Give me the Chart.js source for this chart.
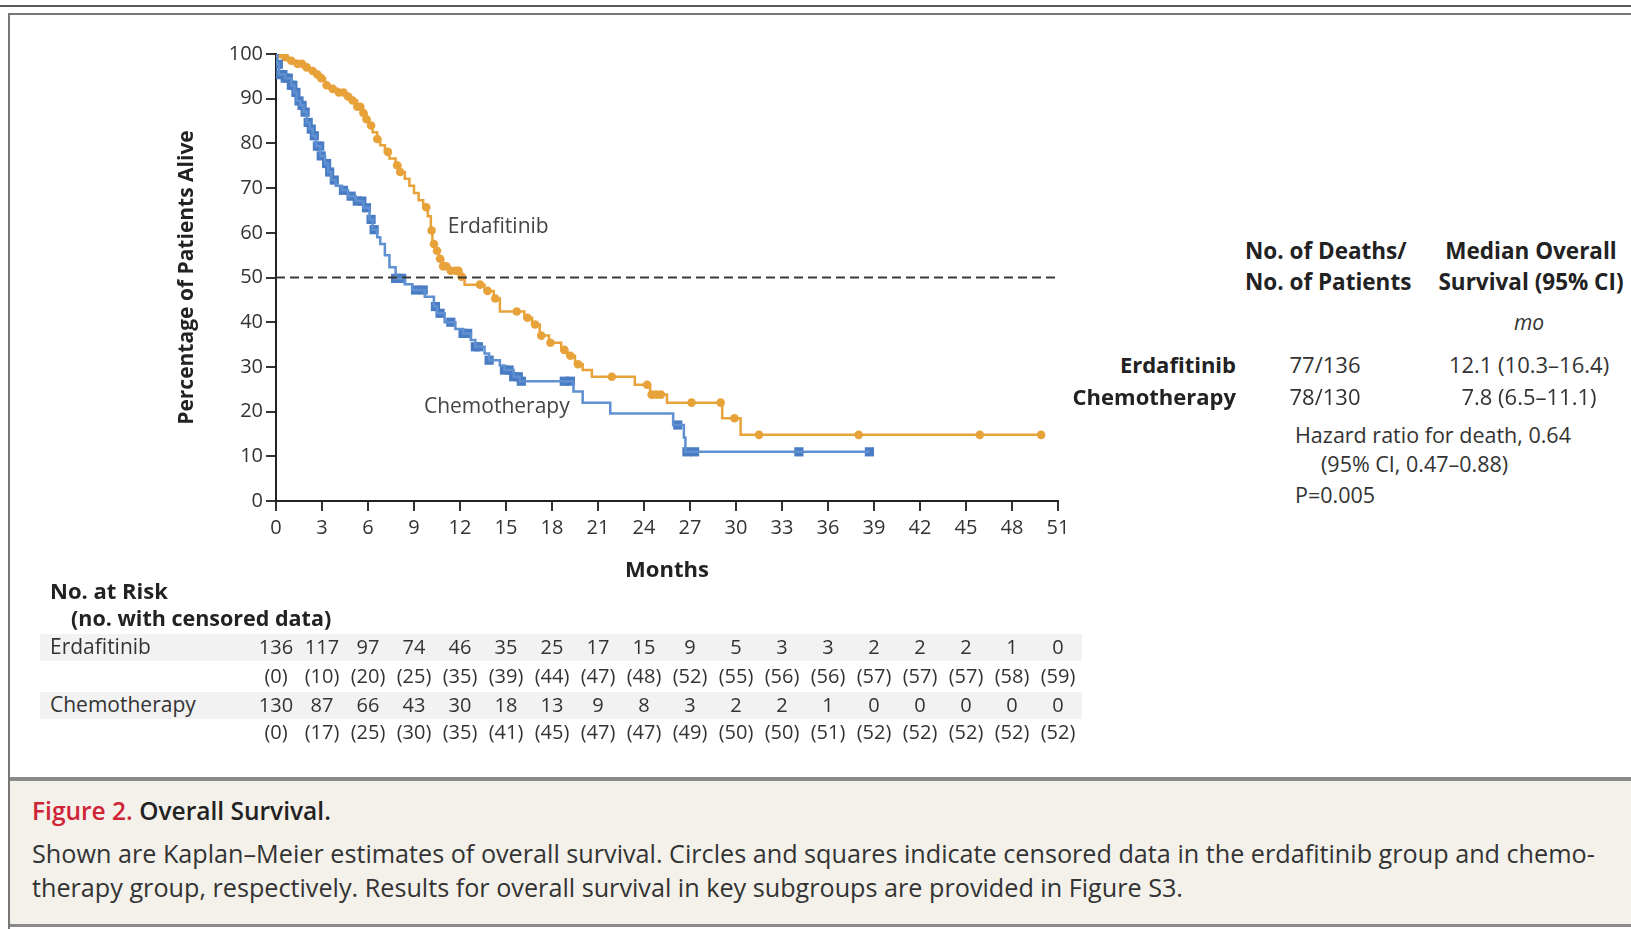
<!DOCTYPE html>
<html>
<head>
<meta charset="utf-8">
<script src="https://cdn.jsdelivr.net/npm/chart.js@4.4.1/dist/chart.umd.min.js"></script>
<style>
  html, body { margin: 0; padding: 0; background: #fff; }
  #page { position: relative; width: 1631px; height: 929px; overflow: hidden;
          font-family: 'Open Sans', 'DejaVu Sans', sans-serif; color: #333; }
  .abs { position: absolute; white-space: nowrap; line-height: 1.2; }
  .rule { position: absolute; }
  #km { position: absolute; left: 0; top: 0; }
  .band { position: absolute; background: #f2f2f2; }
  #caption { position: absolute; left: 10px; top: 781px; width: 1621px; height: 143px; background: #f4f1eb; }
</style>
</head>
<body>
<div id="page">
  <div class="rule" style="left:0;top:5px;width:1631px;height:2px;background:#5a5a5a"></div>
  <div class="rule" style="left:8px;top:13px;width:1623px;height:2px;background:#777"></div>
  <div class="rule" style="left:8px;top:13px;width:2px;height:916px;background:#777"></div>
  <div class="band" style="left:40px;top:634px;width:1042px;height:27px"></div>
  <div class="band" style="left:40px;top:692px;width:1042px;height:27px"></div>
  <div id="caption"></div>
  <div class="rule" style="left:10px;top:777px;width:1621px;height:4px;background:#8a8a8a"></div>
  <div class="rule" style="left:10px;top:924px;width:1621px;height:3px;background:#8a8a8a"></div>
  <canvas id="km" width="1100" height="590"></canvas>
</div>

<script>
// ------------------------- DATA -------------------------
// Kaplan-Meier steps: time (months) and % alive after each step
const erdaTime = [0, 0.4, 0.8, 1.3, 1.8, 2.2, 2.6, 2.9, 3.2, 3.5, 4.0, 4.5, 4.9, 5.3, 5.6,
  5.9, 6.1, 6.3, 6.6, 6.8, 7.1, 7.4, 7.8, 8.1, 8.4, 8.7, 9.0, 9.3, 9.6, 9.9,
  10.1, 10.2, 10.4, 10.6, 10.9, 11.3, 12.0, 12.3, 13.6, 14.2, 14.6, 16.2, 16.7, 17.2, 17.8,
  18.6, 19.0, 19.5, 20.0, 20.6, 23.4, 24.4, 25.5, 29.1, 30.3];
const erdaSurv = [100, 99.3, 98.5, 97.8, 97.0, 96.2, 95.4, 94.6, 93.0, 92.2, 91.4, 90.5, 89.6, 88.2, 86.8,
  85.4, 84.0, 82.5, 81.0, 79.6, 78.1, 76.6, 75.1, 73.6, 72.1, 70.5, 68.9, 67.3, 65.7, 63.7,
  60.5, 57.5, 56.0, 54.2, 52.5, 51.5, 50.2, 48.4, 47.0, 45.3, 42.4, 41.0, 39.5, 37.0, 35.4,
  33.8, 32.5, 30.6, 29.3, 27.8, 26.0, 23.8, 22.0, 18.5, 14.8];
const erdaEnd = 49.9;
const erdaCensor = [0.1, 0.3, 0.6, 1.0, 1.4, 1.7, 2.0, 2.4, 2.7, 2.95,
  3.3, 3.7, 4.1, 4.4, 4.7, 5.0, 5.3, 5.5, 5.7, 5.9,
  6.2, 6.6, 7.3, 7.9, 8.1,
  9.8, 10.15, 10.3, 10.5, 10.7, 10.9, 11.1, 11.4, 11.7, 11.9,
  12.1, 13.3, 13.8, 14.3, 15.7, 16.4, 16.9, 17.3, 17.9, 18.8, 19.2, 19.7,
  21.9, 24.2, 24.5, 24.8, 25.1, 27.1, 29.0, 29.9, 31.5, 38.0, 45.9, 49.9];

const chemoTime = [0, 0.1, 0.2, 0.6, 1.0, 1.2, 1.35, 1.6, 1.8, 2.0, 2.2, 2.4, 2.6, 2.9, 3.2,
  3.4, 3.6, 3.9, 4.3, 4.7, 5.2, 5.7, 6.1, 6.3, 6.6, 6.8, 7.1, 7.4, 7.8, 8.4,
  8.9, 9.7, 10.3, 10.5, 11.0, 11.7, 12.2, 12.7, 13.0, 13.6, 13.9, 14.6, 14.9, 15.5, 15.9,
  19.4, 20.0, 21.8, 25.9, 26.6, 26.7];
const chemoSurv = [100, 97.7, 95.4, 94.6, 93.0, 91.4, 89.5, 88.5, 87.0, 84.7, 83.2, 81.7, 79.4, 77.2, 75.5,
  73.6, 71.8, 70.5, 69.5, 68.2, 67.1, 65.6, 63.0, 60.7, 59.0, 57.5, 55.0, 52.3, 49.8, 48.5,
  47.2, 45.7, 43.5, 42.0, 40.0, 38.5, 37.5, 36.0, 34.5, 33.0, 31.5, 30.3, 29.3, 27.8, 26.8,
  24.5, 22.0, 19.6, 17.0, 14.2, 11.0];
const chemoEnd = 38.7;
const chemoCensor = [0.15, 0.3, 0.45, 0.6, 0.8, 1.0, 1.1, 1.3, 1.5, 1.7, 1.9, 2.1, 2.3, 2.5, 2.7, 2.85, 2.95,
  3.3, 3.5, 3.8, 4.4, 4.9, 5.3, 5.6, 5.9,
  6.2, 6.4, 7.8, 8.0, 8.2,
  9.1, 9.6, 10.4, 10.7, 11.4,
  12.2, 12.5, 13.0, 13.2, 13.9, 14.9,
  15.2, 15.5, 15.8, 16.0, 18.8, 19.2,
  26.2, 26.8, 27.3, 34.1, 38.7];

const medianLevel = 50;

// Number at risk table
const riskMonths = [0, 3, 6, 9, 12, 15, 18, 21, 24, 27, 30, 33, 36, 39, 42, 45, 48, 51];
const erdaRisk  = [136, 117, 97, 74, 46, 35, 25, 17, 15, 9, 5, 3, 3, 2, 2, 2, 1, 0];
const erdaCens  = [0, 10, 20, 25, 35, 39, 44, 47, 48, 52, 55, 56, 56, 57, 57, 57, 58, 59];
const chemoRisk = [130, 87, 66, 43, 30, 18, 13, 9, 8, 3, 2, 2, 1, 0, 0, 0, 0, 0];
const chemoCens = [0, 17, 25, 30, 35, 41, 45, 47, 47, 49, 50, 50, 51, 52, 52, 52, 52, 52];

const ORANGE = '#e8a23a';
const BLUE_LINE = '#5f90d2';
const BLUE_MARK = '#4a7cc4';
const TEXT = '#333';
const FONT = "'Open Sans', 'DejaVu Sans', sans-serif";

// ------------------------- HELPERS -------------------------
function stepLine(times, surv, end) {
  const pts = times.map((t, i) => ({ x: t, y: surv[i] }));
  pts.push({ x: end, y: surv[surv.length - 1] });
  return pts;
}

function survAt(times, surv, t) {
  let v = surv[0];
  for (let i = 0; i < times.length; i++) {
    if (times[i] <= t) v = surv[i];
  }
  return v;
}

function censorPoints(censor, times, surv) {
  return censor.map(t => ({ x: t, y: survAt(times, surv, t) }));
}

const page = document.getElementById('page');

function label(txt, x, y, o = {}) {
  const el = document.createElement('div');
  el.className = 'abs';
  el.innerHTML = txt;
  el.style.left = x + 'px';
  el.style.top = y + 'px';
  el.style.fontSize = (o.size || 20) + 'px';
  if (o.bold) el.style.fontWeight = o.bold === true ? '700' : o.bold;
  if (o.italic) el.style.fontStyle = 'italic';
  if (o.color) el.style.color = o.color;
  const ax = o.align === 'center' ? '-50%' : o.align === 'right' ? '-100%' : '0';
  el.style.transform = `translate(${ax}, -50%)`;
  page.appendChild(el);
  return el;
}

// curve labels drawn at data coordinates
const curveLabels = {
  id: 'curveLabels',
  afterDatasetsDraw(chart) {
    const { ctx, scales: { x, y } } = chart;
    ctx.save();
    ctx.font = `21px ${FONT}`;
    ctx.fillStyle = '#444';
    ctx.textBaseline = 'middle';
    ctx.fillText('Erdafitinib', x.getPixelForValue(11.2), y.getPixelForValue(61.2));
    ctx.fillText('Chemotherapy', x.getPixelForValue(9.65), y.getPixelForValue(21.0));
    ctx.restore();
  }
};

// ------------------------- CHART -------------------------
const chart = new Chart(document.getElementById('km').getContext('2d'), {
  type: 'line',
  data: {
    datasets: [
      { label: 'median', data: [{ x: 0, y: medianLevel }, { x: 51, y: medianLevel }],
        borderColor: '#3a3a3a', borderWidth: 2, borderDash: [9, 5], pointRadius: 0 },
      { label: 'Chemotherapy', data: stepLine(chemoTime, chemoSurv, chemoEnd),
        borderColor: BLUE_LINE, borderWidth: 2.5, stepped: true, pointRadius: 0, fill: false },
      { label: 'Erdafitinib', data: stepLine(erdaTime, erdaSurv, erdaEnd),
        borderColor: ORANGE, borderWidth: 2.5, stepped: true, pointRadius: 0, fill: false },
      { label: 'Chemo censored', data: censorPoints(chemoCensor, chemoTime, chemoSurv),
        showLine: false, pointStyle: 'rect', pointRadius: 6.5, backgroundColor: BLUE_MARK, borderWidth: 0 },
      { label: 'Erda censored', data: censorPoints(erdaCensor, erdaTime, erdaSurv),
        showLine: false, pointStyle: 'circle', pointRadius: 4.3, backgroundColor: ORANGE, borderWidth: 0 }
    ]
  },
  options: {
    responsive: false,
    animation: false,
    devicePixelRatio: 1,
    layout: { padding: { left: 0, top: 54, right: 42, bottom: 0 } },
    plugins: { legend: { display: false }, tooltip: { enabled: false } },
    scales: {
      x: {
        type: 'linear', min: 0, max: 51,
        afterFit: s => { s.height = 89; },
        ticks: { stepSize: 3, color: TEXT, padding: 5, font: { family: FONT, size: 20 } },
        grid: { drawOnChartArea: false, drawTicks: true, tickLength: 10, color: '#333', lineWidth: 2 },
        border: { display: true, color: '#222', width: 2 },
        title: { display: true, text: 'Months', color: '#222', padding: { top: 0, bottom: 6 },
                 font: { family: FONT, size: 22, weight: '700' } }
      },
      y: {
        min: 0, max: 100,
        afterFit: s => { s.width = 276; },
        ticks: { stepSize: 10, color: TEXT, padding: 3, font: { family: FONT, size: 20 } },
        grid: { drawOnChartArea: false, drawTicks: true, tickLength: 10, color: '#333', lineWidth: 2 },
        border: { display: true, color: '#222', width: 2 },
        title: { display: true, text: 'Percentage of Patients Alive', color: '#222',
                 padding: { top: 174, bottom: 0 }, font: { family: FONT, size: 21, weight: '700' } }
      }
    }
  },
  plugins: [curveLabels]
});

// ------------------------- RISK TABLE -------------------------
const xs = chart.scales.x;
label('No. at Risk', 50, 590, { size: 22, bold: true, color: '#222' });
label('(no. with censored data)', 71, 618, { size: 21.5, bold: true, color: '#222' });
label('Erdafitinib', 50, 647, { size: 21 });
label('Chemotherapy', 50, 705, { size: 21 });
riskMonths.forEach((m, i) => {
  const px = xs.getPixelForValue(m);
  label(String(erdaRisk[i]), px, 647, { align: 'center' });
  label('(' + erdaCens[i] + ')', px, 676, { align: 'center' });
  label(String(chemoRisk[i]), px, 705, { align: 'center' });
  label('(' + chemoCens[i] + ')', px, 732, { align: 'center' });
});

// ------------------------- SUMMARY -------------------------
label('No. of Deaths/', 1245, 250, { size: 22.5, bold: true, color: '#222' });
label('No. of Patients', 1245, 281, { size: 22.5, bold: true, color: '#222' });
label('Median Overall', 1531, 250, { size: 22.5, bold: true, color: '#222', align: 'center' });
label('Survival (95% CI)', 1531, 281, { size: 22.5, bold: true, color: '#222', align: 'center' });
label('mo', 1529, 323, { size: 21, italic: true, align: 'center' });
label('Erdafitinib', 1236, 364, { size: 22, bold: true, color: '#222', align: 'right' });
label('Chemotherapy', 1236, 396, { size: 22, bold: true, color: '#222', align: 'right' });
label('77/136', 1325, 364, { size: 22, align: 'center' });
label('78/130', 1325, 396, { size: 22, align: 'center' });
label('12.1 (10.3–16.4)', 1529, 364, { size: 22, align: 'center' });
label('7.8 (6.5–11.1)', 1529, 396, { size: 22, align: 'center' });
label('Hazard ratio for death, 0.64', 1295, 435, { size: 21.5 });
label('(95% CI, 0.47–0.88)', 1321, 464, { size: 21.5 });
label('P=0.005', 1295, 495, { size: 21.5 });

// ------------------------- CAPTION -------------------------
label('<span style="color:#cf2436">Figure 2.</span> Overall Survival.', 32, 811, { size: 24.5, bold: '600', color: '#222' });
label('Shown are Kaplan–Meier estimates of overall survival. Circles and squares indicate censored data in the erdafitinib group and chemo-', 32, 853, { size: 25.2, color: '#333' });
label('therapy group, respectively. Results for overall survival in key subgroups are provided in Figure S3.', 32, 887, { size: 25.2, color: '#333' });
</script>
</body>
</html>
